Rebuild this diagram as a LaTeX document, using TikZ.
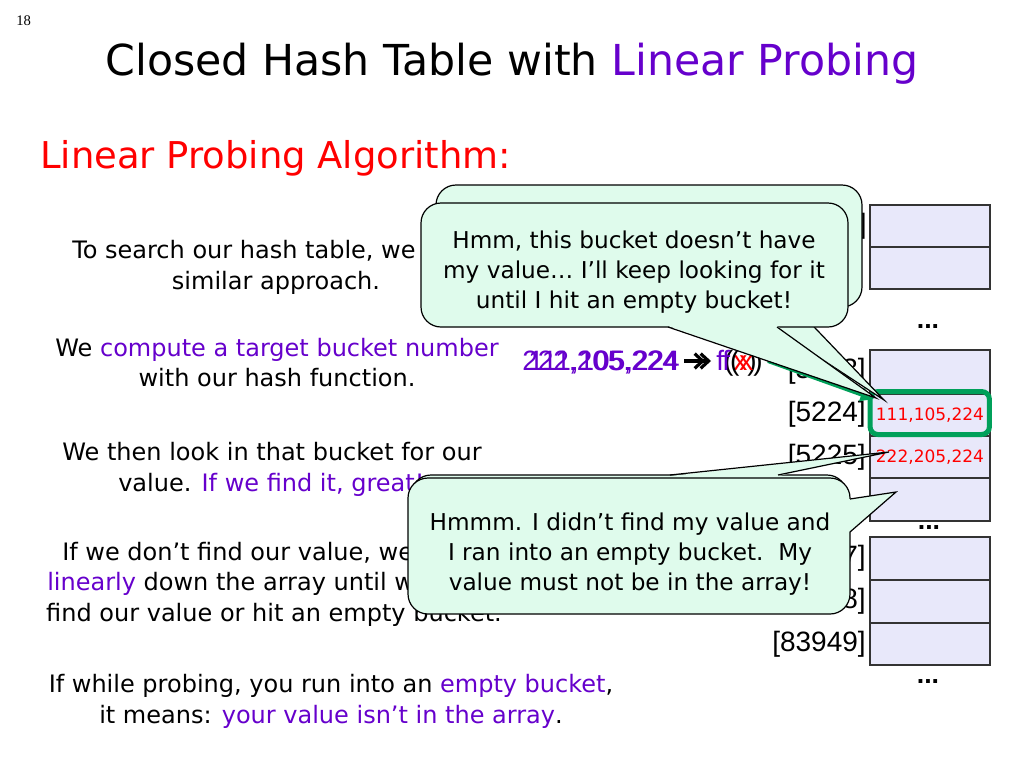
\documentclass[tikz,border=0pt]{standalone}
\usepackage{fontspec}
\setmainfont{DejaVu Sans}
\newfontfamily\arialf{Liberation Sans}
\newfontfamily\timesf{Liberation Serif}
\usetikzlibrary{arrows.meta}
\definecolor{purp}{RGB}{102,0,204}
\definecolor{mint}{RGB}{223,251,236}
\definecolor{lav}{RGB}{232,232,250}
\definecolor{hgreen}{RGB}{0,160,90}
\begin{document}
\begin{tikzpicture}[x=0.75pt,y=-0.75pt,
 body/.style={inner sep=0pt, anchor=base, font=\fontsize{18pt}{22.5pt}\selectfont},
 cell/.style={draw=black!80, line width=1.5pt, fill=lav, minimum width=90pt, minimum height=32pt, inner sep=0pt, text=red, font=\fontsize{12.75pt}{15pt}\selectfont},
 lab/.style={inner sep=0pt, anchor=base east, font=\arialf\fontsize{21pt}{24pt}\selectfont},
 ellip/.style={inner sep=0pt, font=\arialf\bfseries\fontsize{20pt}{24pt}\selectfont},
 num/.style={inner sep=0pt, anchor=base west, font=\arialf\fontsize{21pt}{24pt}\selectfont},
 glypharrow/.style={draw=black, line width=2.6pt, -{Straight Barb[length=6pt,width=11pt,line width=2.4pt]}},
 bub/.style={fill=mint, draw=black, line width=0.9pt, rounded corners=15pt},
 ptrfill/.style={fill=mint},
 ptrline/.style={draw=black, line width=0.9pt, line join=miter},
 btext/.style={inner sep=0pt, align=center, font=\fontsize{17.4pt}{22.3pt}\selectfont},
 hl/.style={draw=hgreen, line width=3.75pt, rounded corners=6pt, minimum width=89.6pt, minimum height=32.25pt, inner sep=0pt},
 garrow/.style={draw=hgreen, line width=3pt, -{Triangle[length=10pt,width=10pt]}}
]
\useasboundingbox (0,0) rectangle (1024,768);
\fill[white] (0,0) rectangle (1024,768);

% header
\node[anchor=base west, inner sep=0pt, font=\timesf\fontsize{11pt}{13pt}\selectfont] (pg) at (16,25) {18};
\node[anchor=base, inner sep=0pt, font=\fontsize{32pt}{36pt}\selectfont] (title) at (512,75) {Closed Hash Table with \textcolor{purp}{Linear Probing}};
\node[anchor=base west, inner sep=0pt, text=red, font=\fontsize{27.7pt}{32pt}\selectfont] (sub) at (40,168) {Linear Probing Algorithm:};

% left text
\node[body, anchor=base west] (l1) at (72,258) {To search our hash table, we};
\node[body] (l2) at (276,289) {similar approach.};
\node[body] (l3) at (277,356) {We \textcolor{purp}{compute a target bucket number}};
\node[body] (l4) at (277,386) {with our hash function.};
\node[body] (l5) at (272,460) {We then look in that bucket for our};
\node[body, anchor=base west] (l6) at (118,491) {value. \textcolor{purp}{If we find it, great!}};
\node[body, anchor=base west] (l7) at (62,560) {If we don’t find our value, we};
\node[body, anchor=base west] (l8) at (47,590) {\textcolor{purp}{linearly} down the array until we};
\node[body] (l9) at (274,621) {find our value or hit an empty bucket.};
\node[body] (l10) at (331,692) {If while probing, you run into an \textcolor{purp}{empty bucket},};
\node[body] (l11) at (331,723) {it means: \textcolor{purp}{your value isn’t in the array}.};

% array
\node[cell] (c1) at (930,226) {};
\node[cell] (c2) at (930,268) {};
\node[cell] (c3) at (930,371.5) {};
\node[cell] (c4) at (930,415) {111,105,224};
\node[cell] (c5) at (930,457) {222,205,224};
\node[cell] (c6) at (930,499.5) {};
\node[cell] (c7) at (930,558.5) {};
\node[cell] (c8) at (930,601.5) {};
\node[cell] (c9) at (930,644) {};
\node[lab] (k1) at (867,233) {]};
\node[lab] (k3) at (866,378.5) {[5223]};
\node[lab] (k4) at (866,421) {[5224]};
\node[lab] (k5) at (866,464) {[5225]};
\node[lab] (k7) at (866,565.5) {[83947]};
\node[lab] (k8) at (866,608.5) {[83948]};
\node[lab] (k9) at (866,651) {[83949]};
\node[ellip] (d1) at (928,327) {...};
\node[ellip] (d2) at (929,528) {...};
\node[ellip] (d3) at (928,682) {...};
\node[hl] (h) at (929.75,413) {};

% hashing
\node[num, text=purp] (n1) at (522,370) {222,205,224};
\node[num, text=purp] (n2) at (528,370) {111,105,224};
\coordinate (a1s) at (684,361);
\coordinate (a1e) at (705,361);
\coordinate (a2s) at (690,361);
\coordinate (a2e) at (711,361);
\draw[glypharrow] (a1s) -- (a1e);
\draw[glypharrow] (a2s) -- (a2e);
\node[num] (f1) at (716,370) {\textcolor{purp}{f}(\textcolor{red}{x})};
\node[num] (f2) at (722,370) {\textcolor{purp}{f}(\textcolor{red}{x})};
\coordinate (gstart) at (768,361);
\coordinate (gtip) at (874,399);
\draw[garrow] (gstart) -- (gtip);

% top bubbles
\draw[bub] (436,185) rectangle (862,307);
\fill[ptrfill] (742,306) -- (884,400) -- (795,306) -- cycle;
\draw[ptrline] (742,307) -- (884,400) -- (795,307);
\draw[bub] (421,203) rectangle (848,327);
\fill[ptrfill] (668,326) -- (876,398) -- (777,326) -- cycle;
\draw[ptrline] (668,327) -- (876,398) -- (777,327);
\node[btext] (t1) at (634,272) {Hmm, this bucket doesn’t have\\my value… I’ll keep looking for it\\until I hit an empty bucket!};

% bottom bubbles
\draw[bub] (411,475) rectangle (847,611);
\fill[ptrfill] (670,476) -- (889,452) -- (778,476) -- cycle;
\draw[ptrline] (670,475) -- (889,452) -- (778,475);
\draw[bub] (408,478) rectangle (850,614);
\fill[ptrfill] (849,499) -- (896,492) -- (849,532) -- cycle;
\draw[ptrline] (850,499) -- (896,492) -- (850,532);
\node[btext] (t2) at (630,554) {Hmmm. I didn’t find my value and\\I ran into an empty bucket.~~My\\value must not be in the array!};
\end{tikzpicture}
\end{document}
